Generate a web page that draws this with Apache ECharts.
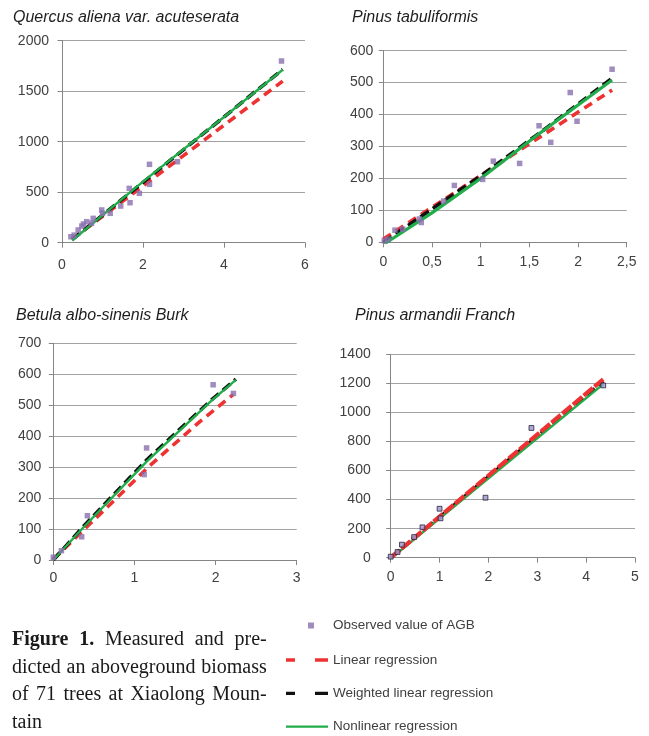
<!DOCTYPE html>
<html>
<head>
<meta charset="utf-8">
<script src="https://cdn.jsdelivr.net/npm/echarts@6/dist/echarts.min.js"></script>
<style>
html,body{margin:0;padding:0;background:#ffffff;}
#chart{width:649px;height:736px;}
</style>
</head>
<body>
<div id="chart"></div>
<script>
// ---------------- DATA ----------------
const panelTitles = ['Quercus aliena var. acuteserata', 'Pinus tabuliformis', 'Betula albo-sinenis Burk', 'Pinus armandii Franch'];
const seriesNames = ['Observed value of AGB', 'Linear regression', 'Weighted linear regression', 'Nonlinear regression'];

const xMaxes = [6, 2.5, 3, 5];
const xIntervals = [2, 0.5, 1, 1];
const yMaxes = [2000, 600, 700, 1400];
const yIntervals = [500, 100, 100, 200];

// Quercus aliena var. acuteserata
const quercusObserved = [[0.22,59],[0.30,75],[0.40,126],[0.49,165],[0.53,185],[0.61,208],[0.73,192],[0.77,241],[0.98,324],[1.00,291],[1.19,291],[1.45,363],[1.66,538],[1.68,396],[1.91,489],[2.16,776],[2.16,578],[2.85,802],[5.42,1799]];
const quercusLinear = [[0.25,35],[5.45,1600]];
const quercusWeighted = [[0.25,30],[5.45,1715]];
const quercusNonlinear = [[0.25,22],[2.0,605],[4.0,1245],[5.45,1712]];

// Pinus tabuliformis
const tabulObserved = [[0.01,5],[0.05,10],[0.12,38],[0.20,41],[0.37,73],[0.39,62],[0.62,129],[0.73,178],[1.02,197],[1.13,254],[1.40,247],[1.60,365],[1.72,313],[1.92,469],[1.99,379],[2.35,542]];
const tabulLinear = [[0.0,10],[2.35,477]];
const tabulWeighted = [[0.0,0],[1.0,208],[1.64,350],[2.36,516]];
const tabulNonlinear = [[0.02,-3],[0.5,92],[1.0,200],[1.6,340],[2.35,508]];

// Betula albo-sinenis Burk
const betulaObserved = [[0.0,9],[0.10,30],[0.35,75],[0.42,143],[1.12,276],[1.15,362],[1.97,566],[2.22,538]];
const betulaLinear = [[0.0,2],[0.78,200],[1.19,305],[1.81,448],[2.22,535]];
const betulaWeighted = [[0.0,0],[0.37,108],[1.15,323],[1.95,517],[2.25,584]];
const betulaNonlinear = [[0.0,0],[0.37,105],[1.15,318],[1.95,515],[2.25,582]];

// Pinus armandii Franch
const armandObserved = [[0.0,7],[0.14,39],[0.23,90],[0.48,142],[0.65,209],[1.00,337],[1.02,271],[1.94,413],[2.88,893],[4.35,1186]];
const armandLinear = [[0.0,0],[4.35,1228]];
const armandWeighted = [[0.0,0],[4.35,1212]];
const armandNonlinear = [[0.02,0],[4.35,1195]];

const captionLines = ['Figure 1. Measured and pre-', 'dicted an aboveground biomass', 'of 71 trees at Xiaolong Moun-', 'tain'];
const captionBold = ['Figure', '1.'];

// ---------------- LAYOUT / STYLE ----------------
const observedSets = [quercusObserved, tabulObserved, betulaObserved, armandObserved];
const linearSets = [quercusLinear, tabulLinear, betulaLinear, armandLinear];
const weightedSets = [quercusWeighted, tabulWeighted, betulaWeighted, armandWeighted];
const nonlinearSets = [quercusNonlinear, tabulNonlinear, betulaNonlinear, armandNonlinear];

const grids = [
  {left: 62, top: 40.7, width: 243, height: 202},
  {left: 383.3, top: 50.7, width: 243.4, height: 191.6},
  {left: 53.3, top: 343.3, width: 243.4, height: 216.7},
  {left: 390.7, top: 354.3, width: 244.3, height: 203.4}
];
const titlePos = [{left: 13, top: 10}, {left: 352, top: 10}, {left: 16, top: 308}, {left: 355, top: 307.5}];
const yLabelMargin = [13, 10, 12, 20];
const xLabelMargin = [15, 13, 11, 12];

const AX = '#868686';
const GRIDC = '#a2a2a2';
const LBL = '#404040';
const SANS = '"Liberation Sans", Arial, sans-serif';
const RED = '#ee3232';
const BLACK = '#111111';
const GREEN = '#20ad4a';
const PURPLE = '#8a6fae';

const fmtComma = v => String(v).replace('.', ',');
const fmtPlain = v => String(v);

const xAxes = [], yAxes = [], series = [], titles = [];
for (let i = 0; i < 4; i++) {
  titles.push({
    text: panelTitles[i], left: titlePos[i].left, top: titlePos[i].top, padding: 0,
    textStyle: {fontFamily: SANS, fontSize: 16, fontStyle: 'italic', fontWeight: 'normal', color: '#1e1e1e'}
  });
  xAxes.push({
    type: 'value', gridIndex: i, min: 0, max: xMaxes[i], interval: xIntervals[i],
    axisLine: {show: true, onZero: false, lineStyle: {color: AX, width: 1}},
    axisTick: {show: true, inside: false, length: 5, lineStyle: {color: AX, width: 1}},
    axisLabel: {color: LBL, fontFamily: SANS, fontSize: 14, margin: xLabelMargin[i], formatter: fmtComma},
    splitLine: {show: false}
  });
  yAxes.push({
    type: 'value', gridIndex: i, min: 0, max: yMaxes[i], interval: yIntervals[i],
    axisLine: {show: true, onZero: false, lineStyle: {color: AX, width: 1}},
    axisTick: {show: true, inside: false, length: 4.5, lineStyle: {color: AX, width: 1}},
    axisLabel: {color: LBL, fontFamily: SANS, fontSize: 14, margin: yLabelMargin[i], formatter: fmtPlain},
    splitLine: {show: true, lineStyle: {color: GRIDC, width: 1}}
  });
  const isArm = i === 3;
  const redS = {
    type: 'line', name: seriesNames[1], xAxisIndex: i, yAxisIndex: i, data: linearSets[i],
    symbol: 'none', silent: true, color: RED, z: isArm ? 4 : 2,
    lineStyle: {color: RED, width: isArm ? 4.2 : 3.6, type: isArm ? [12, 2] : [9, 6], cap: 'butt'}
  };
  const blackS = {
    type: 'line', name: seriesNames[2], xAxisIndex: i, yAxisIndex: i, data: weightedSets[i],
    symbol: 'none', silent: true, color: BLACK, z: 2,
    lineStyle: {color: BLACK, width: 3.6, type: [10, 5], cap: 'butt'}
  };
  const greenS = {
    type: 'line', name: seriesNames[3], xAxisIndex: i, yAxisIndex: i, data: nonlinearSets[i],
    symbol: 'none', silent: true, color: GREEN, z: 3,
    lineStyle: {color: GREEN, width: i === 1 ? 3.2 : 2.4}
  };
  const obsS = {
    type: 'scatter', name: seriesNames[0], xAxisIndex: i, yAxisIndex: i, data: observedSets[i],
    symbol: 'rect', symbolSize: isArm ? 4.8 : 5.5, silent: true, color: PURPLE, z: 5,
    itemStyle: isArm ? {color: '#a094cc', borderColor: '#23233a', borderWidth: 1} : {color: PURPLE}
  };
  series.push(obsS, redS, blackS, greenS);
}

// caption (justified lines)
const measureCtx = document.createElement('canvas').getContext('2d');
const SERIF = '"Liberation Serif", "Times New Roman", serif';
function wordWidth(w, bold) {
  measureCtx.font = (bold ? 'bold ' : '') + '20px ' + SERIF;
  return measureCtx.measureText(w).width;
}
const capLeft = 12, capRight = 266.7;
const capY = [640, 667.5, 695, 722.5];
const graphics = [];
captionLines.forEach((line, li) => {
  const words = line.split(' ');
  const boldFlags = words.map((w, wi) => li === 0 && wi < captionBold.length && captionBold[wi] === w);
  const widths = words.map((w, wi) => wordWidth(w, boldFlags[wi]));
  const total = widths.reduce((a, b) => a + b, 0);
  const last = li === captionLines.length - 1;
  const gap = last ? wordWidth(' ', false) : (capRight - capLeft - total) / (words.length - 1);
  let x = capLeft;
  words.forEach((w, wi) => {
    graphics.push({
      type: 'text', x: x, y: capY[li], silent: true,
      style: {text: w, fill: '#1a1a1a', fontFamily: SERIF, fontSize: 20,
              fontWeight: boldFlags[wi] ? 'bold' : 'normal', verticalAlign: 'middle', align: 'left'}
    });
    x += widths[wi] + gap;
  });
});

const legendText = {color: LBL, fontFamily: SANS, fontSize: 13.5};
const option = {
  backgroundColor: '#ffffff',
  animation: false,
  title: titles,
  grid: grids.map(g => Object.assign({containLabel: false, outerBoundsMode: 'none'}, g)),
  xAxis: xAxes,
  yAxis: yAxes,
  legend: [
    {
      data: [{name: seriesNames[0], icon: 'rect'}],
      left: 308, top: 618.5, padding: 0, itemWidth: 6, itemHeight: 6, selectedMode: false,
      textStyle: Object.assign({padding: [0, 0, 0, 14]}, legendText)
    },
    {
      data: [
        {name: seriesNames[1], icon: 'path://M0,0h9v3.3h-9zM29,0h13v3.3h-13z'},
        {name: seriesNames[2], icon: 'path://M0,0h9v3.3h-9zM29,0h13v3.3h-13z'},
        {name: seriesNames[3], icon: 'path://M0,0h42v2.2h-42z'}
      ],
      orient: 'vertical', left: 286, top: 653, padding: 0, itemWidth: 42, itemHeight: 14, itemGap: 19.3,
      selectedMode: false, textStyle: legendText
    }
  ],
  graphic: graphics,
  series: series
};

const chart = echarts.init(document.getElementById('chart'), null, {renderer: 'canvas', width: 649, height: 736});
chart.setOption(option);
</script>
</body>
</html>
